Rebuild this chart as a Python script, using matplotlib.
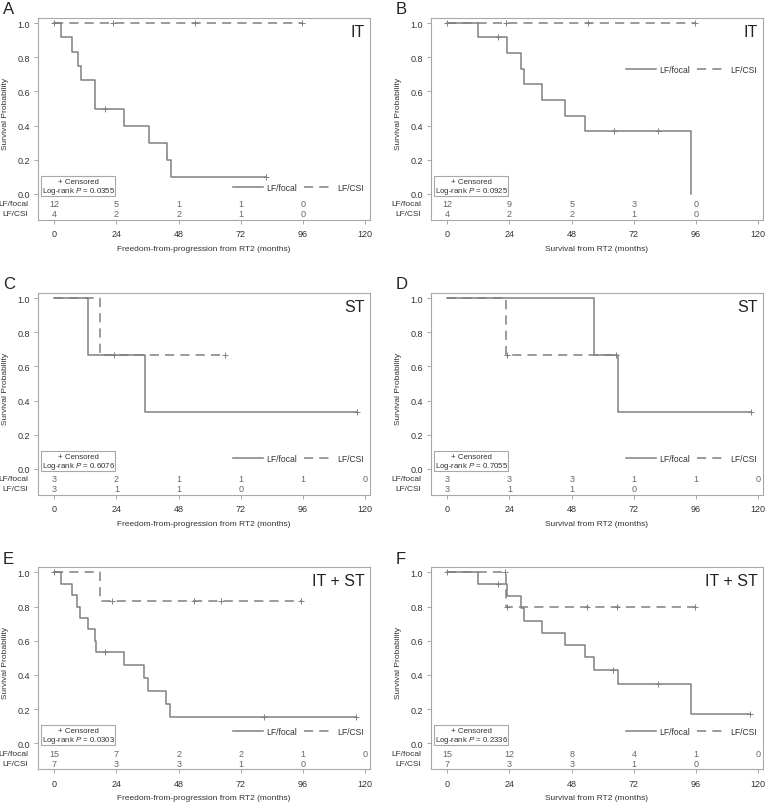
import numpy as np
import matplotlib
matplotlib.use("Agg")
import matplotlib.pyplot as plt
from matplotlib.patches import Rectangle

plt.rcParams['font.family'] = ['Liberation Sans', 'DejaVu Sans']
plt.rcParams['mathtext.fontset'] = 'custom'
plt.rcParams['mathtext.rm'] = 'Liberation Sans'
plt.rcParams['mathtext.it'] = 'Liberation Sans:italic'

# ---------------- data ----------------
ticks_x = [0, 24, 48, 72, 96, 120]
yticks = [0.0, 0.2, 0.4, 0.6, 0.8, 1.0]

A_focal_t = [0, 2.4, 6.7, 9.0, 10.2, 15.9, 26.9, 36.6, 43.3, 45.1, 81.5]
A_focal_s = [1, 0.917, 0.833, 0.75, 0.667, 0.5, 0.4, 0.3, 0.2, 0.1, 0.1]
A_focal_c = [19.7, 81.5]
A_csi_t = [0, 95.5]
A_csi_s = [1, 1]
A_csi_c = [0, 22.8, 54.2, 95.5]
A_risk_focal = [12, 5, 1, 1, 0]
A_risk_csi = [4, 2, 2, 1, 0]

B_focal_t = [0, 11.8, 22.9, 28.3, 29.6, 36.7, 45.3, 53.2, 94.2]
B_focal_s = [1, 0.917, 0.825, 0.733, 0.642, 0.55, 0.458, 0.367, 0.0]
B_focal_c = [19.7, 64.5, 81.4]
B_csi_t = [0, 95.5]
B_csi_s = [1, 1]
B_csi_c = [0, 22.7, 54.3, 95.5]
B_risk_focal = [12, 9, 5, 3, 0]
B_risk_csi = [4, 2, 2, 1, 0]

C_focal_t = [0, 13.1, 35.0, 116.8]
C_focal_s = [1, 0.667, 0.333, 0.333]
C_focal_c = [116.8]
C_csi_t = [0, 17.6, 66.0]
C_csi_s = [1, 0.667, 0.667]
C_csi_c = [23.2, 66.0]
C_risk_focal = [3, 2, 1, 1, 1, 0]
C_risk_csi = [3, 1, 1, 0]

D_focal_t = [0, 56.8, 65.9, 117.0]
D_focal_s = [1, 0.667, 0.333, 0.333]
D_focal_c = [117.0]
D_csi_t = [0, 22.7, 65.0]
D_csi_s = [1, 0.667, 0.667]
D_csi_c = [22.9, 65.0]
D_risk_focal = [3, 3, 3, 1, 1, 0]
D_risk_csi = [3, 1, 1, 0]

E_focal_t = [0, 2.4, 6.7, 8.9, 10.0, 13.1, 15.6, 16.0, 26.8, 34.7, 36.1, 43.2, 44.7, 116.5]
E_focal_s = [1, 0.933, 0.867, 0.8, 0.733, 0.667, 0.6, 0.533, 0.457, 0.381, 0.305, 0.229, 0.152, 0.152]
E_focal_c = [19.7, 81.0, 116.5]
E_csi_t = [0, 17.8, 95.3]
E_csi_s = [1, 0.833, 0.833]
E_csi_c = [0, 22.1, 54.0, 64.5, 95.3]
E_risk_focal = [15, 7, 2, 2, 1, 0]
E_risk_csi = [7, 3, 3, 1, 0]

F_focal_t = [0, 11.8, 22.9, 28.3, 29.6, 36.7, 45.3, 53.0, 56.8, 65.9, 94.2, 116.8]
F_focal_s = [1, 0.933, 0.862, 0.79, 0.718, 0.646, 0.574, 0.503, 0.431, 0.345, 0.172, 0.172]
F_focal_c = [0, 19.7, 64.1, 81.2, 116.8]
F_csi_t = [0, 22.6, 95.5]
F_csi_s = [1, 0.8, 0.8]
F_csi_c = [22.4, 22.9, 54.1, 65.3, 95.5]
F_risk_focal = [15, 12, 8, 4, 1, 0]
F_risk_csi = [7, 3, 3, 1, 0]

panels = [
    dict(letter='A', group='IT', p='0.0355', xlabel='Freedom-from-progression from RT2 (months)',
         ft=A_focal_t, fs=A_focal_s, fc=A_focal_c, ct=A_csi_t, cs=A_csi_s, cc=A_csi_c,
         rf=A_risk_focal, rc=A_risk_csi, leg_y=0.035),
    dict(letter='B', group='IT', p='0.0925', xlabel='Survival from RT2 (months)',
         ft=B_focal_t, fs=B_focal_s, fc=B_focal_c, ct=B_csi_t, cs=B_csi_s, cc=B_csi_c,
         rf=B_risk_focal, rc=B_risk_csi, leg_y=0.727),
    dict(letter='C', group='ST', p='0.6076', xlabel='Freedom-from-progression from RT2 (months)',
         ft=C_focal_t, fs=C_focal_s, fc=C_focal_c, ct=C_csi_t, cs=C_csi_s, cc=C_csi_c,
         rf=C_risk_focal, rc=C_risk_csi, leg_y=0.06),
    dict(letter='D', group='ST', p='0.7055', xlabel='Survival from RT2 (months)',
         ft=D_focal_t, fs=D_focal_s, fc=D_focal_c, ct=D_csi_t, cs=D_csi_s, cc=D_csi_c,
         rf=D_risk_focal, rc=D_risk_csi, leg_y=0.06),
    dict(letter='E', group='IT + ST', p='0.0303', xlabel='Freedom-from-progression from RT2 (months)',
         ft=E_focal_t, fs=E_focal_s, fc=E_focal_c, ct=E_csi_t, cs=E_csi_s, cc=E_csi_c,
         rf=E_risk_focal, rc=E_risk_csi, leg_y=0.07),
    dict(letter='F', group='IT + ST', p='0.2336', xlabel='Survival from RT2 (months)',
         ft=F_focal_t, fs=F_focal_s, fc=F_focal_c, ct=F_csi_t, cs=F_csi_s, cc=F_csi_c,
         rf=F_risk_focal, rc=F_risk_csi, leg_y=0.07),
]

# ---------------- style ----------------
LINE = '#808080'
TXT = '#333333'
SPINE = '#a8a8a8'
NUM = '#666666'

W, H = 765, 803
fig = plt.figure(figsize=(W / 100, H / 100), dpi=100)

col_left = [37.7, 430.7]
ax_w = 332.0
row_top = [19.0, 294.0, 568.3]
ax_h = 201.5


def surv_at(t, s, x):
    i = np.searchsorted(t, x, side='right') - 1
    return s[max(i, 0)]


for k, pn in enumerate(panels):
    r, c = divmod(k, 2)
    left = col_left[c] / W
    bottom = (H - row_top[r] - ax_h) / H
    ax = fig.add_axes([left, bottom, ax_w / W, ax_h / H])
    ax.set_xlim(-6.4, 121.7)
    ax.set_ylim(-0.15, 1.03)
    for sp in ax.spines.values():
        sp.set_color(SPINE)
        sp.set_linewidth(0.8)

    # curves
    ax.step(pn['ft'], pn['fs'], where='post', color=LINE, lw=1.1, label='LF/focal')
    ax.step(pn['ct'], pn['cs'], where='post', color=LINE, lw=1.1, dashes=(6, 4),
            label='LF/CSI')
    fy = [surv_at(pn['ft'], pn['fs'], x) for x in pn['fc']]
    cy = [surv_at(pn['ct'], pn['cs'], x) for x in pn['cc']]
    if pn['letter'] == 'F':
        cy[0] = 1.0
    ax.plot(pn['fc'], fy, ls='none', marker='+', ms=5, mew=0.7, color=LINE)
    ax.plot(pn['cc'], cy, ls='none', marker='+', ms=5, mew=0.7, color=LINE)

    # ticks
    ax.set_xticks(ticks_x)
    ax.set_xticklabels([str(t) for t in ticks_x])
    ax.set_yticks(yticks)
    ax.set_yticklabels([f'{v:.1f}' for v in yticks])
    ax.tick_params(axis='both', labelsize=6.5, colors=SPINE, labelcolor=TXT,
                   length=3, width=0.7, pad=2.5)
    ax.tick_params(axis='x', pad=4)
    ax.set_xlabel(pn['xlabel'], fontsize=6, color=TXT, labelpad=5)
    ax.set_ylabel('Survival Probability', fontsize=6, color=TXT)
    ax.yaxis.set_label_coords(-0.085, 0.53)

    # risk table
    for x, n in zip(ticks_x, pn['rf']):
        ax.text(x, -0.058, str(n), ha='center', va='center', fontsize=6.5, color=NUM)
    for x, n in zip(ticks_x, pn['rc']):
        ax.text(x, -0.117, str(n), ha='center', va='center', fontsize=6.5, color=NUM)
    ax.text(-0.028, -0.058, 'LF/focal', transform=ax.get_yaxis_transform(),
            ha='right', va='center', fontsize=6, color=TXT, clip_on=False)
    ax.text(-0.028, -0.117, 'LF/CSI', transform=ax.get_yaxis_transform(),
            ha='right', va='center', fontsize=6, color=TXT, clip_on=False)

    # censored / log-rank box
    ax.add_patch(Rectangle((-5.0, -0.012), 28.4, 0.117, facecolor='white',
                           edgecolor=SPINE, lw=0.8, zorder=3))
    ax.text(9.2, 0.075, '+ Censored', ha='center', va='center', fontsize=5.7,
            color=TXT, zorder=4)
    ax.text(9.2, 0.022, 'Log-rank $P$ = ' + pn['p'], ha='center', va='center',
            fontsize=5.7, color=TXT, zorder=4)

    # legend
    ax.legend(loc='center right', bbox_to_anchor=(1.0, (pn['leg_y'] + 0.15) / 1.18),
              ncol=2, frameon=False, fontsize=6.2, handlelength=3.5,
              columnspacing=0.8, handletextpad=0.35, labelcolor=TXT,
              borderaxespad=0.3)

    # group label
    ax.text(0.985, 0.935, pn['group'], transform=ax.transAxes, ha='right',
            va='center', fontsize=11.5, color='#222222')
    # panel letter
    fig.text((col_left[c] - 35) / W, 1 - (row_top[r] - 9) / H, pn['letter'],
             ha='left', va='center', fontsize=12, color='#222222')

fig.savefig('out.png', dpi=100)
